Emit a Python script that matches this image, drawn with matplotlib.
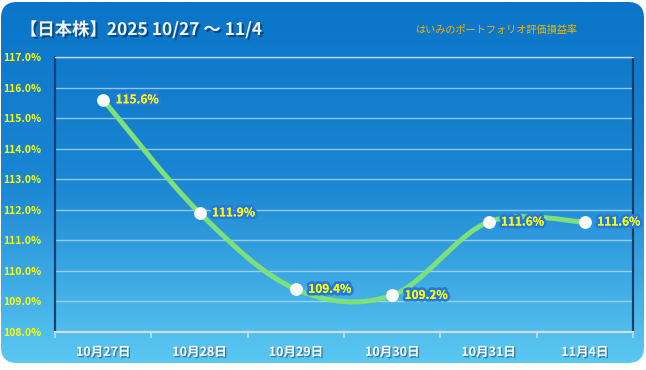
import numpy as np
import matplotlib
matplotlib.use("Agg")
import matplotlib.pyplot as plt
from matplotlib.path import Path
from matplotlib.patches import PathPatch, FancyBboxPatch
import matplotlib.patheffects as pe

plt.rcParams['font.family'] = ['Noto Sans CJK JP', 'DejaVu Sans']

# data
paivat = ['10月27日', '10月28日', '10月29日', '10月30日', '10月31日', '11月4日']
arvot = [115.6, 111.9, 109.4, 109.2, 111.6, 111.6]
y_ticks = [108, 109, 110, 111, 112, 113, 114, 115, 116, 117]
otsikko = '【日本株】2025 10/27 ～ 11/4'
alaotsikko = 'はいみのポートフォリオ評価損益率'

W, H = 646, 370
fig = plt.figure(figsize=(W / 100, H / 100), dpi=100)
fig.patch.set_facecolor('white')

# background: rounded box with vertical gradient
bg = fig.add_axes([0, 0, 1, 1])
bg.set_xlim(0, W)
bg.set_ylim(H, 0)
bg.axis('off')
grad = np.linspace(0, 1, 256).reshape(-1, 1)
cmap = matplotlib.colors.LinearSegmentedColormap.from_list(
    'tausta', ['#0a74c8', '#1b86d2', '#5bc8f2'])
img = bg.imshow(grad, cmap=cmap, extent=[0, W, 363, 2], aspect='auto')
box = FancyBboxPatch((1, 2), W - 3, 361, boxstyle='round,pad=0,rounding_size=16',
                     transform=bg.transData, facecolor='none', edgecolor='none')
bg.add_patch(box)
img.set_clip_path(box)

# title texts
bg.text(20, 30, otsikko, fontsize=12.5, fontweight='bold', color='#eef3f8',
        va='center', ha='left',
        path_effects=[pe.withSimplePatchShadow(offset=(1.5, -1.5), shadow_rgbFace='#063560', alpha=0.7)])
bg.text(497, 30, alaotsikko, fontsize=7.3, color='#f2b400', va='center', ha='center')

# main chart
ax = fig.add_axes([55 / W, (H - 332) / H, (633 - 55) / W, (332 - 57) / H])
ax.patch.set_alpha(0)
x = np.arange(len(arvot))
ax.set_xlim(-0.5, len(arvot) - 0.5)
ax.set_ylim(108, 117)

for yv in y_ticks[1:]:
    ax.axhline(yv, color='#b8e0fa', lw=1, alpha=0.75, zorder=1)

# smoothed line (bezier between the points)
pts = list(zip(x, arvot))
verts = [pts[0]]
codes = [Path.MOVETO]
n = len(pts)
for i in range(n - 1):
    p0 = pts[i - 1] if i > 0 else pts[i]
    p1 = pts[i]
    p2 = pts[i + 1]
    p3 = pts[i + 2] if i + 2 < n else pts[i + 1]
    c1 = (p1[0] + (p2[0] - p0[0]) / 6, p1[1] + (p2[1] - p0[1]) / 6)
    c2 = (p2[0] - (p3[0] - p1[0]) / 6, p2[1] - (p3[1] - p1[1]) / 6)
    verts += [c1, c2, p2]
    codes += [Path.CURVE4] * 3
ax.add_patch(PathPatch(Path(verts, codes), facecolor='none', edgecolor='#7ee07a',
                       lw=3.6, capstyle='round', zorder=3))
ax.scatter(x, arvot, s=85, color='white', zorder=4, linewidths=0)

for xi, yi in zip(x, arvot):
    ax.annotate(f'{yi:.1f}%', (xi, yi), xytext=(9, 0), textcoords='offset points',
                fontsize=8.5, fontweight='bold', color='#ffff00', va='center', ha='left',
                zorder=5,
                path_effects=[pe.withStroke(linewidth=4, foreground='#2479dd'), pe.Normal()])

ax.set_yticks(y_ticks)
ax.set_yticklabels([f'{v:.1f}%' for v in y_ticks])
ax.tick_params(axis='y', length=0, pad=10, labelsize=7.5, labelcolor='#ffff00')
for t in ax.get_yticklabels():
    t.set_fontweight('bold')

ax.set_xticks(x)
ax.set_xticklabels(paivat)
ax.tick_params(axis='x', length=0, pad=10, labelsize=9, labelcolor='white')
for t in ax.get_xticklabels():
    t.set_fontweight('bold')
    t.set_path_effects([pe.withSimplePatchShadow(offset=(1, -1), shadow_rgbFace='#1a4f7a', alpha=0.6)])
ax.set_xticks(np.arange(-0.5, len(arvot)), minor=True)
ax.tick_params(axis='x', which='minor', length=4, color='#d0dde6', width=1.2)

ax.spines['top'].set_color('#b8e0fa')
ax.spines['top'].set_linewidth(1)
ax.spines['left'].set_color('#0b3d6e')
ax.spines['left'].set_linewidth(1.6)
ax.spines['right'].set_color('#0b3d6e')
ax.spines['right'].set_linewidth(1.6)
ax.spines['bottom'].set_color('#d0dde6')
ax.spines['bottom'].set_linewidth(1.6)

fig.savefig('out.png', dpi=100, facecolor='white')
